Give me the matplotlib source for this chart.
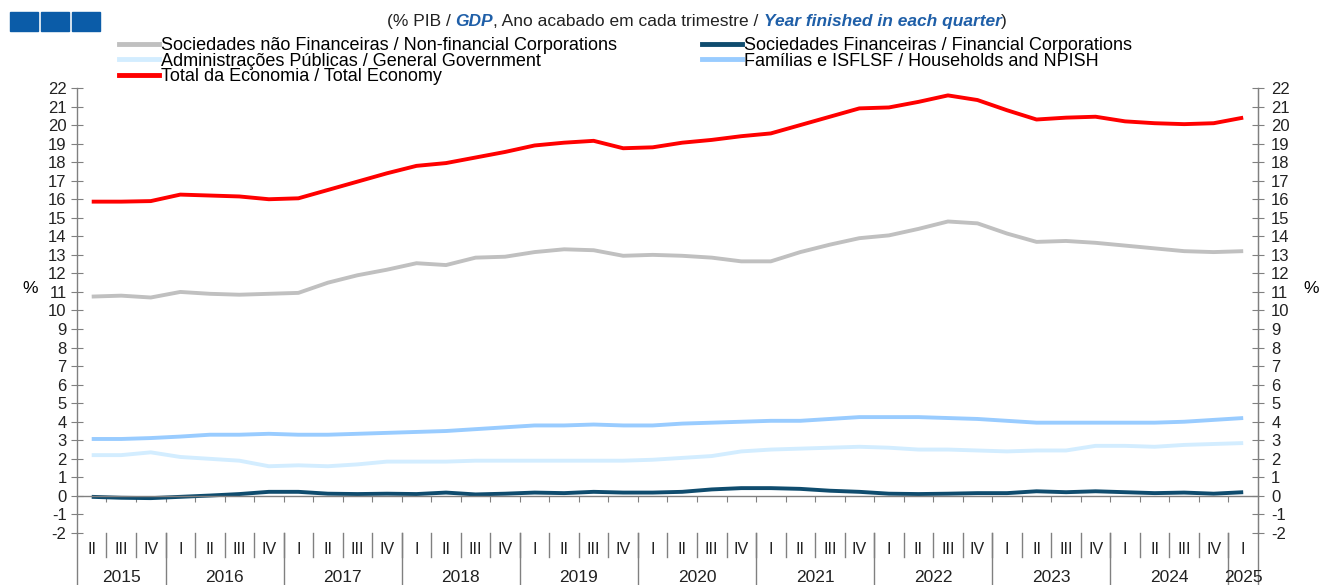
import matplotlib
matplotlib.use("Agg")
import matplotlib.pyplot as plt
from matplotlib.lines import Line2D
from matplotlib.patches import Rectangle
import matplotlib.transforms as mtransforms

plt.rcParams['font.family'] = ['Liberation Sans', 'DejaVu Sans']
plt.rcParams['axes.unicode_minus'] = False

# quarters 2015 II .. 2025 I
quarters = ["II", "III", "IV"] + ["I", "II", "III", "IV"] * 9 + ["I"]
years = ["2015", "2016", "2017", "2018", "2019", "2020", "2021", "2022", "2023", "2024", "2025"]
year_counts = [3, 4, 4, 4, 4, 4, 4, 4, 4, 4, 1]

total = [15.87, 15.87, 15.9, 16.25, 16.2, 16.15, 16.0, 16.05, 16.5, 16.95,
         17.4, 17.8, 17.95, 18.25, 18.55, 18.9, 19.05, 19.15, 18.75, 18.8,
         19.05, 19.2, 19.4, 19.55, 20.0, 20.45, 20.9, 20.95, 21.25, 21.6,
         21.35, 20.8, 20.3, 20.4, 20.45, 20.2, 20.1, 20.05, 20.1, 20.4]
nonfin = [10.75, 10.8, 10.7, 11.0, 10.9, 10.85, 10.9, 10.95, 11.5, 11.9,
          12.2, 12.55, 12.45, 12.85, 12.9, 13.15, 13.3, 13.25, 12.95, 13.0,
          12.95, 12.85, 12.65, 12.65, 13.15, 13.55, 13.9, 14.05, 14.4, 14.8,
          14.7, 14.15, 13.7, 13.75, 13.65, 13.5, 13.35, 13.2, 13.15, 13.2]
households = [3.07, 3.07, 3.12, 3.2, 3.3, 3.3, 3.35, 3.3, 3.3, 3.35,
              3.4, 3.45, 3.5, 3.6, 3.7, 3.8, 3.8, 3.85, 3.8, 3.8,
              3.9, 3.95, 4.0, 4.05, 4.05, 4.15, 4.25, 4.25, 4.25, 4.2,
              4.15, 4.05, 3.95, 3.95, 3.95, 3.95, 3.95, 4.0, 4.1, 4.2]
government = [2.2, 2.2, 2.35, 2.1, 2.0, 1.9, 1.6, 1.65, 1.6, 1.7,
              1.85, 1.85, 1.85, 1.9, 1.9, 1.9, 1.9, 1.9, 1.9, 1.95,
              2.05, 2.15, 2.4, 2.5, 2.55, 2.6, 2.65, 2.6, 2.5, 2.5,
              2.45, 2.4, 2.45, 2.45, 2.7, 2.7, 2.65, 2.75, 2.8, 2.85]
financial = [-0.05, -0.1, -0.12, -0.05, 0.02, 0.1, 0.22, 0.22, 0.12, 0.1,
             0.12, 0.1, 0.18, 0.08, 0.12, 0.18, 0.15, 0.22, 0.18, 0.18,
             0.22, 0.35, 0.42, 0.42, 0.38, 0.28, 0.22, 0.12, 0.1, 0.12,
             0.15, 0.15, 0.25, 0.2, 0.25, 0.2, 0.15, 0.18, 0.12, 0.2]

labels = ["Sociedades não Financeiras / Non-financial Corporations",
          "Administrações Públicas / General Government",
          "Total da Economia / Total Economy",
          "Sociedades Financeiras / Financial Corporations",
          "Famílias e ISFLSF / Households and NPISH"]
colors = ["#C0C0C0", "#D3EDFF", "#FF0000", "#0F4C6E", "#99CCFF"]

x = list(range(len(quarters)))
fig = plt.figure(figsize=(13.2, 5.85), dpi=100)
ax = fig.add_axes([0.0583, 0.0889, 0.8947, 0.7607])

lw = 2.8
ax.plot(x, government, color=colors[1], lw=lw, solid_capstyle='butt')
ax.plot(x, households, color=colors[4], lw=lw, solid_capstyle='butt')
ax.plot(x, nonfin, color=colors[0], lw=lw, solid_capstyle='butt')
ax.plot(x, financial, color=colors[3], lw=lw, solid_capstyle='butt')
ax.plot(x, total, color=colors[2], lw=lw, solid_capstyle='butt')

ax.set_xlim(-0.5, len(x) - 0.5)
ax.set_ylim(-2, 22)
ax.set_yticks(range(-2, 23))
ax.spines['top'].set_visible(False)
ax.spines['bottom'].set_position(('data', 0))
for s in ['left', 'right', 'bottom']:
    ax.spines[s].set_color('#808080')
    ax.spines[s].set_linewidth(1)
ax.set_xticks([i + 0.5 for i in x[:-1]])
ax.tick_params(axis='x', direction='out', length=4, color='#808080', labelbottom=False)
ax.tick_params(axis='y', direction='inout', length=9, color='#808080', labelsize=12,
               labelcolor='#222222', pad=3)

ax2 = ax.twinx()
ax2.set_ylim(-2, 22)
ax2.set_yticks(range(-2, 23))
ax2.tick_params(axis='y', direction='inout', length=9, color='#808080', labelsize=12,
                labelcolor='#222222', pad=5)
for s in ['top', 'left', 'bottom']:
    ax2.spines[s].set_visible(False)
ax2.spines['right'].set_color('#808080')

# category axis below
trans = mtransforms.blended_transform_factory(ax.transData, ax.transAxes)
for i, q in enumerate(quarters):
    ax.text(i, -0.038, q, transform=trans, ha='center', va='center', fontsize=11.5, color='#222222')
    if i > 0:
        ax.plot([i - 0.5, i - 0.5], [0, -0.055], transform=trans, color='#808080', lw=1, clip_on=False)
start = 0
for y, n in zip(years, year_counts):
    ax.plot([start - 0.5, start - 0.5], [0, -0.12], transform=trans, color='#808080', lw=1, clip_on=False)
    ax.text(start + (n - 1) / 2, -0.099, y, transform=trans, ha='center', va='center',
            fontsize=12.5, color='#222222')
    start += n
ax.plot([start - 0.5, start - 0.5], [0, -0.12], transform=trans, color='#808080', lw=1, clip_on=False)

fig.text(0.023, 0.506, "%", fontsize=12.5, ha='center', va='center')
fig.text(0.993, 0.506, "%", fontsize=12.5, ha='center', va='center')

# legend
handles = [Line2D([], [], color=c, lw=3.5) for c in colors]
fig.legend(handles, labels, ncol=2, loc='upper left', bbox_to_anchor=(0.0905, 0.937),
           frameon=False, fontsize=13, handlelength=2.2, handletextpad=0.12,
           labelspacing=-0.07, columnspacing=4.7, borderpad=0, borderaxespad=0)

# blue squares
for x0 in [10, 41, 72]:
    fig.patches.append(Rectangle((x0 / 1320, 1 - 31 / 585), 28 / 1320, 19 / 585,
                                 transform=fig.transFigure, color='#0B5CA8'))

# title with mixed styles
pieces = [("(% PIB / ", '#222222', 'normal', 'normal'),
          ("GDP", '#1F5FA8', 'bold', 'italic'),
          (", Ano acabado em cada trimestre / ", '#222222', 'normal', 'normal'),
          ("Year finished in each quarter", '#1F5FA8', 'bold', 'italic'),
          (")", '#222222', 'normal', 'normal')]
renderer = fig.canvas.get_renderer()
texts = []
for s, c, w, st in pieces:
    t = fig.text(0, 0.963, s, color=c, fontweight=w, fontstyle=st, fontsize=12.5,
                 ha='left', va='center')
    texts.append(t)
widths = [t.get_window_extent(renderer).width for t in texts]
xpix = 697 - sum(widths) / 2
for t, w in zip(texts, widths):
    t.set_x(xpix / 1320)
    xpix += w

fig.savefig("out.png", dpi=100)
